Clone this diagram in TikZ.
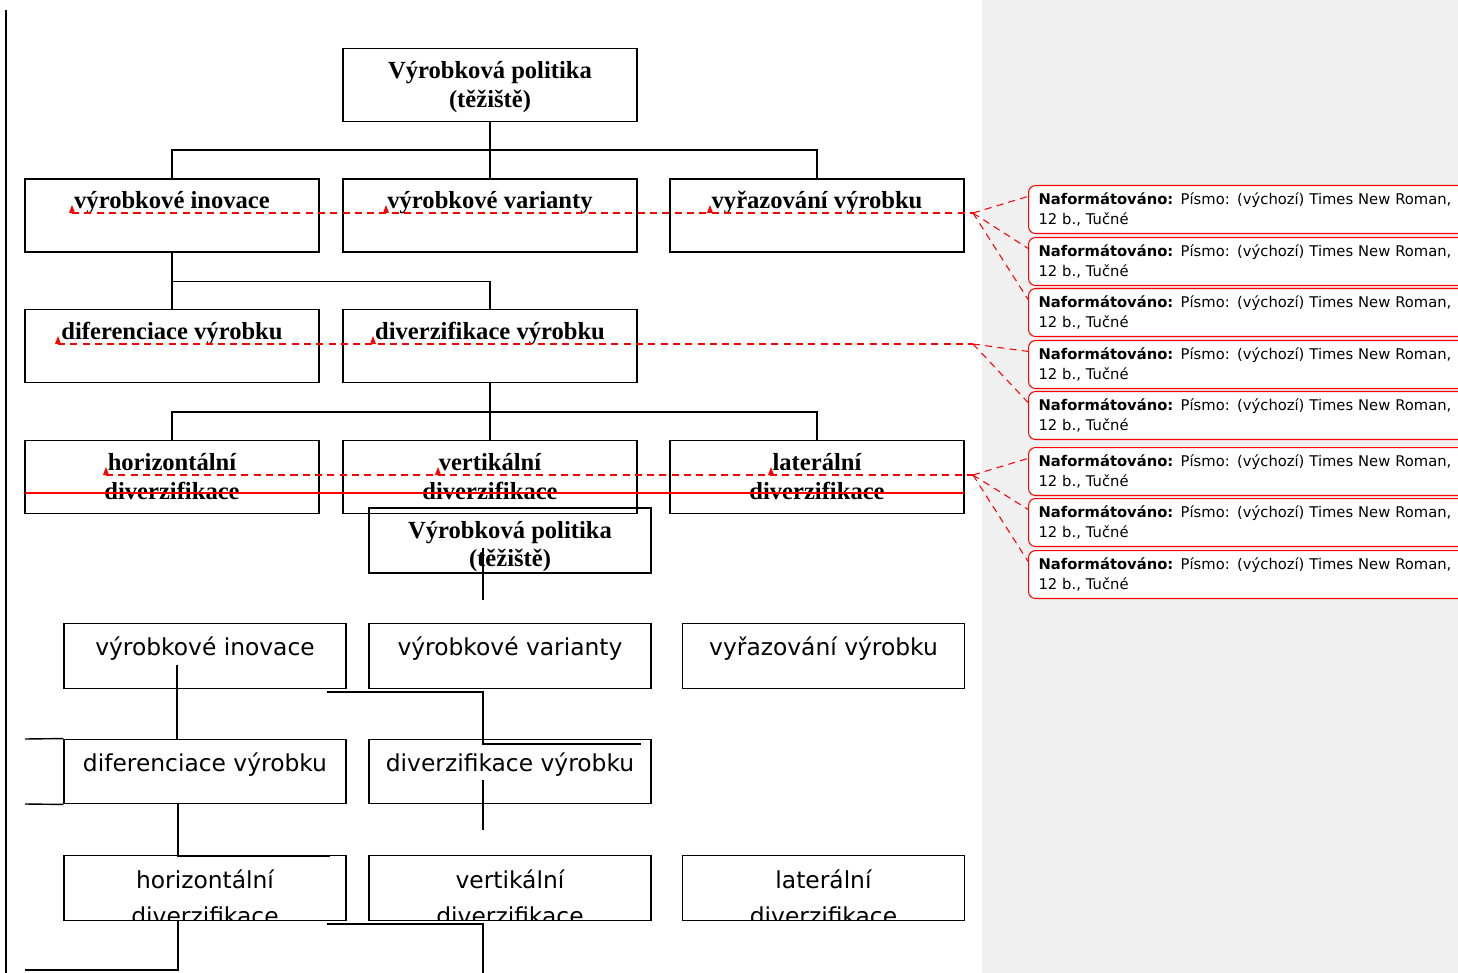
\documentclass[tikz,border=0pt]{standalone}
\usepackage{fontspec}
\setmainfont{Liberation Serif}
\newfontfamily\tahoma{DejaVu Sans}
\usetikzlibrary{positioning}
\definecolor{panelgray}{RGB}{240,240,240}
\tikzset{
  upbox/.style={draw, line width=0.8pt, minimum width=5.88cm, minimum height=1.46cm, inner sep=0pt},
  lowbox/.style={draw, line width=0.8pt, minimum width=5.64cm, minimum height=1.29cm, inner sep=0pt},
  uptext/.style={font=\bfseries\fontsize{14}{16.4}\selectfont, inner sep=0pt, align=center},
  lowtext/.style={font=\tahoma\fontsize{13.3}{18.7}\selectfont, inner sep=0pt},
  link/.style={line width=0.8pt},
  change/.style={red, line width=0.6pt, dash pattern=on 4pt off 3pt},
  strike/.style={red, line width=0.9pt},
  note/.style={draw=red, line width=0.6pt, rounded corners=4pt, fill=white, anchor=north west,
    minimum height=0.96cm, text width=8.6cm, inner xsep=0.2cm, inner ysep=0pt, align=left,
    font=\tahoma\fontsize{8.4}{11.3}\selectfont},
  chgtri/.pic={\fill[red] (-3,0) -- (3,0) -- (0,-8) -- cycle;}
}

\begin{document}
\begin{tikzpicture}[x=0.02cm, y=-0.02cm]
  \clip (0,0) rectangle (1458,973);
  \fill[white] (0,0) rectangle (1458,973);
  \fill[panelgray] (982,0) rectangle (1458,973);
  \draw[line width=1.2pt] (6,10) -- (6,973);

  % tracked version (top)
  \node[upbox] (pol) at (490,85) {};
  \node[uptext] at ([yshift=-22.4pt]pol.north) {Výrobková politika\\(těžiště)};
  \foreach \n/\x/\t in {inov/172/výrobkové inovace, var/490/výrobkové varianty, vyr/817/vyřazování výrobku} {
    \node[upbox] (\n) at (\x,215.5) {};
    \node[uptext, anchor=base] at ([yshift=-17.4pt]\n.north) {\t};
  }
  \foreach \n/\x/\t in {dif/172/diferenciace výrobku, div/490/diverzifikace výrobku} {
    \node[upbox] (\n) at (\x,346) {};
    \node[uptext, anchor=base] at ([yshift=-17.4pt]\n.north) {\t};
  }
  \foreach \n/\x/\t in {hor/172/horizontální, vert/490/vertikální, lat/817/laterální} {
    \node[upbox] (\n) at (\x,477) {};
    \node[uptext] at ([yshift=-20.7pt]\n.north) {\t\\diverzifikace};
  }

  \draw[link] (pol.south) -- (var.north);
  \draw[link] (pol.south) -- ++(0,28) -| (inov.north);
  \draw[link] (pol.south) -- ++(0,28) -| (vyr.north);
  \draw[link] (inov.south) -- (dif.north);
  \draw[link] (inov.south) -- ++(0,29) -| (div.north);
  \draw[link] (div.south) -- (vert.north);
  \draw[link] (div.south) -- ++(0,29) -| (hor.north);
  \draw[link] (div.south) -- ++(0,29) -| (lat.north);

  % change marks
  \coordinate (hub1) at (973,213);
  \coordinate (hub2) at (973,344);
  \coordinate (hub3) at (973,475);
  \draw[change] (72,213) -- (hub1);
  \draw[change] (58,344) -- (hub2);
  \draw[change] (106,475) -- (hub3);
  \draw[strike] (25,493) -- (964,493);
  \foreach \p in {(72,213),(386,213),(710,213),(58,344),(373,344),(106,475),(438,475),(771,475)}
    \pic at \p {chgtri};

  \foreach \i/\y in {1/185,2/237,3/288,4/340,5/391,6/447,7/498,8/550}
    \coordinate (t\i) at (1028,\y);
  \foreach \i in {1,2,3} \draw[change] (hub1) -- ([yshift=-6.5pt]t\i);
  \foreach \i in {4,5} \draw[change] (hub2) -- ([yshift=-6.5pt]t\i);
  \foreach \i in {6,7,8} \draw[change] (hub3) -- ([yshift=-6.5pt]t\i);
  \foreach \i in {1,...,8}
    \node[note] (n\i) at (t\i) {\textbf{Naformátováno:} Písmo: (výchozí) Times New Roman,\\12 b., Tučné};

  % original version (bottom)
  \node[lowbox, minimum height=1.3cm] (pol2) at (510,540.5) {};
  \node[uptext] at ([yshift=-22.3pt]pol2.north) {Výrobková politika\\(těžiště)};
  \foreach \n/\x/\y/\t in {inov2/205/656/výrobkové inovace, var2/510/656/výrobkové varianty,
      vyr2/823.5/656/vyřazování výrobku, dif2/205/771.5/diferenciace výrobku,
      div2/510/771.5/diverzifikace výrobku} {
    \node[lowbox] (\n) at (\x,\y) {};
    \node[lowtext, anchor=base] at ([yshift=-18.7pt]\n.north) {\t};
  }
  \foreach \n/\x/\t in {hor2/205/horizontální, vert2/510/vertikální, lat2/823.5/laterální} {
    \node[lowbox] (\n) at (\x,888) {};
    \begin{scope}
      \clip (\n.south west) rectangle (\n.north east);
      \node[lowtext, anchor=base] at ([yshift=-19pt]\n.north) {\t};
      \node[lowtext, anchor=base] at ([yshift=-39.5pt]\n.north) {diverzifikace};
    \end{scope}
  }

  \draw[link] (483,548) -- (483,600);
  \draw[link] (177,665) -- (177,739);
  \draw[link] (327,692) -| (483,744) -- (641,744);
  \draw[link] (25,739) -- (dif2.north west);
  \draw[link] (25,804) -- (dif2.south west);
  \draw[link] (178,804) -- (178,856) -- (330,856);
  \draw[link] (483,780) -- (483,830);
  \draw[link] (178,920) -- (178,970) -- (25,970);
  \draw[link] (327,924) -| (483,973);
\end{tikzpicture}
\end{document}
